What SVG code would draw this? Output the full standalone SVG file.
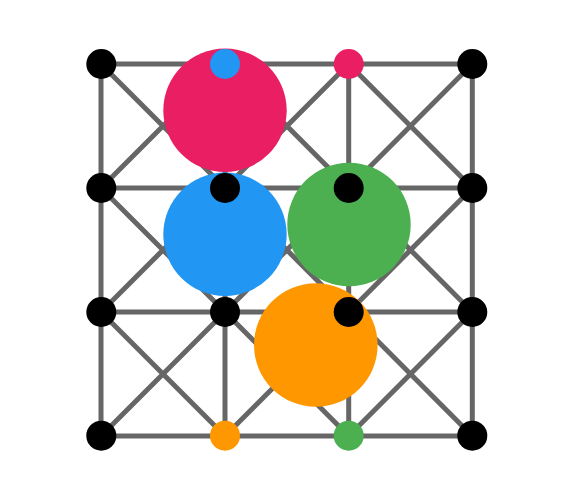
<svg xmlns="http://www.w3.org/2000/svg" width="574" height="499" viewBox="0 0 574 499">
<style>
.e{stroke:#666666;stroke-width:5;fill:none}
.n{fill:#000000}
.pink{fill:#e91e63}
.blue{fill:#2196f3}
.green{fill:#4caf50}
.orange{fill:#ff9800}
</style>
<rect width="574" height="499" fill="#ffffff"/>
<g id="connectors" class="e">
<path d="M101,64H472M101,188H472M101,312H472M101,436H472M101,64V436M225,64V436M348.7,64V436M472.3,64V436"/>
<path d="M101,64L225,188M225,64L101,188M225,64L348.7,188M348.7,64L225,188M348.7,64L472.3,188M472.3,64L348.7,188"/>
<path d="M101,188L225,312M225,188L101,312M225,188L348.7,312M348.7,188L225,312M348.7,188L472.3,312M472.3,188L348.7,312"/>
<path d="M101,312L225,436M225,312L101,436M225,312L348.7,436M348.7,312L225,436M348.7,312L472.3,436M472.3,312L348.7,436"/>
</g>
<g id="big-pink"><circle class="pink" cx="225" cy="110.3" r="61.7"/></g>
<g id="big-blue"><circle class="blue" cx="225" cy="234.3" r="61.7"/></g>
<g id="big-green"><circle class="green" cx="349" cy="224.5" r="61.7"/></g>
<g id="big-orange"><circle class="orange" cx="315.8" cy="345" r="61.8"/></g>
<g id="n00"><circle class="n" cx="101.3" cy="64" r="15"/></g>
<g id="n01"><circle class="blue" cx="225" cy="64" r="15"/></g>
<g id="n02"><circle class="pink" cx="348.7" cy="64" r="15"/></g>
<g id="n03"><circle class="n" cx="472.3" cy="64" r="15"/></g>
<g id="n10"><circle class="n" cx="101.3" cy="188" r="15"/></g>
<g id="n11"><circle class="n" cx="225" cy="188" r="15"/></g>
<g id="n12"><circle class="n" cx="348.7" cy="188" r="15"/></g>
<g id="n13"><circle class="n" cx="472.3" cy="188" r="15"/></g>
<g id="n20"><circle class="n" cx="101.3" cy="312" r="15"/></g>
<g id="n21"><circle class="n" cx="225" cy="312" r="15"/></g>
<g id="n22"><circle class="n" cx="348.7" cy="312" r="15"/></g>
<g id="n23"><circle class="n" cx="472.3" cy="312" r="15"/></g>
<g id="n30"><circle class="n" cx="101.3" cy="435.7" r="15"/></g>
<g id="n31"><circle class="orange" cx="225" cy="435.7" r="15"/></g>
<g id="n32"><circle class="green" cx="348.7" cy="435.7" r="15"/></g>
<g id="n33"><circle class="n" cx="472.3" cy="435.7" r="15"/></g>
</svg>
